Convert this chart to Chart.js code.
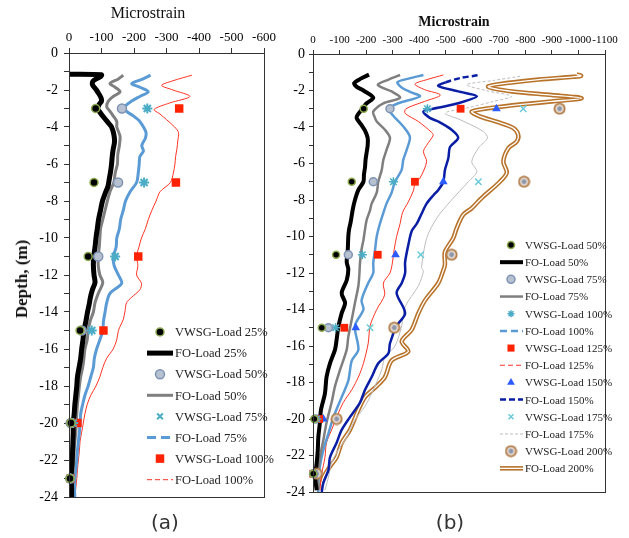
<!DOCTYPE html>
<html>
<head>
<meta charset="utf-8">
<script src="https://cdn.jsdelivr.net/npm/chart.js@4.4.1/dist/chart.umd.min.js"></script>
<style>
body { margin:0; background:#fff; width:629px; height:538px; position:relative; overflow:hidden; font-family:'Liberation Serif', serif; }
canvas { position:absolute; top:0; }
#chartA { left:0; }
#chartB { left:285px; }
.lbl { position:absolute; transform:translate(-50%,-50%); white-space:nowrap; color:#111; }
</style>
</head>
<body>
<canvas id="chartA" width="290" height="538"></canvas>
<canvas id="chartB" width="344" height="538"></canvas>
<div class="lbl" style="left:148px;top:13px;font-size:16px">Microstrain</div>
<div class="lbl" style="left:454px;top:22px;font-size:14px;font-weight:bold">Microstrain</div>
<div class="lbl" style="left:22px;top:279px;font-size:17px;font-weight:bold;transform:translate(-50%,-50%) rotate(-90deg)">Depth, (m)</div>
<div class="lbl" style="left:165px;top:522px;font:20px 'DejaVu Sans',sans-serif;color:#333">(a)</div>
<div class="lbl" style="left:450px;top:522px;font:20px 'DejaVu Sans',sans-serif;color:#333">(b)</div>
<script>
// depths of the vibrating wire strain gauges (m)
const gaugeDepth = [-3, -7, -11, -15, -20, -23];

// ---- panel (a): gauges (microstrain) ----
const vwA25 = [-82, -77, -59, -34, -6, -3];
const vwA50 = [-163, -151, -90, -39, -5, -4];
const vwA75 = [-241, -231, -142, -70, -13, -4];
const vwA100 = [-339, -329, -213, -106, -26, -5];

// ---- panel (a): fibre optic profiles [strain, depth] ----
const foA25 = [[0,-1.15],[-100,-1.18],[-95,-1.3],[-75,-1.5],[-72,-1.7],[-80,-1.9],[-88,-2.1],[-98,-2.4],[-100,-2.6],[-92,-2.8],[-88,-3.0],[-95,-3.2],[-108,-3.5],[-122,-3.8],[-131,-4.0],[-138,-4.4],[-140,-4.8],[-136,-5.2],[-133,-5.6],[-131,-6.0],[-128,-6.4],[-124,-6.8],[-120,-7.2],[-111,-7.6],[-103,-8.0],[-97,-8.5],[-91,-9.0],[-87,-9.5],[-83,-10.0],[-80,-10.5],[-76,-11.0],[-75,-11.5],[-77,-12.0],[-80,-12.4],[-72,-12.8],[-66,-13.2],[-62,-13.6],[-57,-14.0],[-52,-14.5],[-46,-15.0],[-43,-15.5],[-39,-16.0],[-36,-16.5],[-31,-17.0],[-26,-17.5],[-24,-18.0],[-21,-18.5],[-18,-19.0],[-16,-19.5],[-13,-20.0],[-13,-20.5],[-12,-21.0],[-11,-21.5],[-10,-22.0],[-8,-22.5],[-6,-23.0],[-8,-23.5],[-8,-24.0]];
const foA50 = [[-167,-1.2],[-152,-1.4],[-126,-1.65],[-142,-1.85],[-157,-2.1],[-136,-2.35],[-121,-2.6],[-116,-2.9],[-126,-3.15],[-136,-3.4],[-147,-3.7],[-147,-4.0],[-157,-4.5],[-155,-5.0],[-150,-5.5],[-149,-6.0],[-142,-6.5],[-138,-7.0],[-126,-7.5],[-118,-8.0],[-111,-8.5],[-104,-9.0],[-97,-9.5],[-95,-10.0],[-93,-10.5],[-90,-11.0],[-90,-11.5],[-95,-12.0],[-104,-12.4],[-90,-13.0],[-80,-13.5],[-75,-14.0],[-65,-14.5],[-59,-15.0],[-56,-15.5],[-49,-16.0],[-46,-16.5],[-42,-17.0],[-36,-17.5],[-32,-18.0],[-29,-18.5],[-26,-19.0],[-24,-19.5],[-22,-20.0],[-21,-20.5],[-18,-21.0],[-16,-21.5],[-15,-22.0],[-13,-22.5],[-11,-23.0],[-11,-23.5],[-11,-24.0]];
const foA75 = [[-251,-1.2],[-228,-1.4],[-193,-1.65],[-218,-1.85],[-244,-2.1],[-218,-2.35],[-193,-2.6],[-172,-2.9],[-177,-3.15],[-198,-3.4],[-218,-3.7],[-229,-4.0],[-237,-4.3],[-235,-4.6],[-224,-5.0],[-229,-5.3],[-218,-5.6],[-216,-6.0],[-213,-6.5],[-208,-7.0],[-188,-7.5],[-174,-8.0],[-167,-8.5],[-159,-9.0],[-155,-9.5],[-147,-10.0],[-145,-10.5],[-136,-11.0],[-139,-11.5],[-152,-12.0],[-162,-12.45],[-126,-13.0],[-116,-13.5],[-111,-14.0],[-106,-14.5],[-104,-15.0],[-95,-15.5],[-85,-16.0],[-78,-16.5],[-75,-17.0],[-67,-17.5],[-59,-18.0],[-49,-18.5],[-42,-19.0],[-36,-19.5],[-34,-20.0],[-32,-20.5],[-29,-21.0],[-26,-21.5],[-24,-22.0],[-21,-22.5],[-18,-23.0],[-17,-23.5],[-18,-24.0]];
const foA100 = [[-378,-1.2],[-320,-1.5],[-285,-1.75],[-320,-2.0],[-372,-2.35],[-310,-2.7],[-262,-3.05],[-280,-3.3],[-300,-3.6],[-325,-4.0],[-337,-4.3],[-335,-4.7],[-332,-5.2],[-328,-5.6],[-326,-6.0],[-321,-6.5],[-312,-7.0],[-280,-7.5],[-268,-8.0],[-255,-8.5],[-244,-9.0],[-235,-9.5],[-223,-10.0],[-215,-10.5],[-208,-11.0],[-212,-11.5],[-208,-12.0],[-223,-12.45],[-218,-12.8],[-193,-13.2],[-177,-13.5],[-172,-14.0],[-167,-14.4],[-152,-15.0],[-147,-15.5],[-136,-16.0],[-116,-16.5],[-104,-17.0],[-95,-17.5],[-83,-18.0],[-67,-18.5],[-56,-19.0],[-49,-19.5],[-44,-20.0],[-39,-20.5],[-34,-21.0],[-32,-21.5],[-29,-22.0],[-26,-22.5],[-24,-23.0],[-21,-23.5],[-18,-24.0]];

// ---- panel (b): gauges ----
const vwB50 = [-191, -146, -87, -33, -5, -1];
const vwB75 = [-290, -227, -133, -58, -8, -2];
const vwB100 = [-431, -303, -186, -85, -15, -3];
const vwB125 = [-556, -384, -244, -118, -23, -1];
const vwB150 = [-691, -491, -311, -161, -39, -3];
const vwB175 = [-792, -623, -406, -215, -30, -5];
const vwB200 = [-929, -795, -522, -306, -89, -14];

// ---- panel (b): fibre optic profiles [strain, depth] ----
const foB50 = [[-211,-1.13],[-180,-1.35],[-155,-1.6],[-165,-1.8],[-190,-2.0],[-227,-2.4],[-202,-2.7],[-186,-3.0],[-170,-3.3],[-164,-3.5],[-183,-3.9],[-196,-4.2],[-206,-4.6],[-206,-5.0],[-202,-5.4],[-198,-5.8],[-196,-6.2],[-192,-6.6],[-190,-7.0],[-171,-7.45],[-158,-8.0],[-150,-8.5],[-142,-9.2],[-136,-9.6],[-133,-10.0],[-131,-10.7],[-127,-11.4],[-133,-11.8],[-127,-12.4],[-108,-13.1],[-121,-13.65],[-108,-14.2],[-95,-15.0],[-89,-15.65],[-83,-16.2],[-64,-16.95],[-51,-17.7],[-45,-18.6],[-30,-19.5],[-26,-20.2],[-20,-21.0],[-18,-21.7],[-14,-22.4],[-8,-23.2],[-14,-23.9]];
const foB75 = [[-328,-1.15],[-285,-1.4],[-244,-1.68],[-270,-1.9],[-296,-2.05],[-328,-2.4],[-265,-2.7],[-227,-3.15],[-232,-3.45],[-240,-3.7],[-271,-4.15],[-290,-4.6],[-277,-5.25],[-265,-5.8],[-259,-6.35],[-246,-7.0],[-240,-7.6],[-221,-8.2],[-215,-8.55],[-202,-9.1],[-196,-9.6],[-190,-10.2],[-183,-10.7],[-177,-11.45],[-175,-12.0],[-171,-12.7],[-158,-13.65],[-146,-14.55],[-133,-15.5],[-127,-16.2],[-102,-17.3],[-83,-18.2],[-70,-19.1],[-51,-20.2],[-39,-21.15],[-26,-22.1],[-20,-23.0],[-18,-23.9]];
const foB100 = [[-416,-1.15],[-360,-1.35],[-318,-1.55],[-335,-1.85],[-370,-2.1],[-403,-2.32],[-321,-2.7],[-285,-3.0],[-303,-3.4],[-340,-3.97],[-365,-4.55],[-353,-5.25],[-340,-5.8],[-334,-6.35],[-309,-7.0],[-296,-7.6],[-277,-8.2],[-265,-8.7],[-252,-9.3],[-240,-10.0],[-234,-10.7],[-227,-11.45],[-227,-12.0],[-208,-12.55],[-183,-13.5],[-190,-14.0],[-158,-14.9],[-171,-16.2],[-146,-16.8],[-133,-17.9],[-108,-18.8],[-77,-19.9],[-58,-20.8],[-39,-21.7],[-26,-22.6],[-20,-23.5],[-20,-24.0]];
const foB125 = [[-491,-1.15],[-430,-1.4],[-384,-1.65],[-420,-1.95],[-480,-2.25],[-420,-2.6],[-350,-3.0],[-347,-3.25],[-397,-3.7],[-447,-4.3],[-453,-4.45],[-428,-5.0],[-416,-5.35],[-428,-5.9],[-403,-6.8],[-384,-7.1],[-378,-7.5],[-359,-8.1],[-337,-8.7],[-328,-9.3],[-315,-10.0],[-306,-10.7],[-299,-11.45],[-290,-12.0],[-265,-12.55],[-270,-13.2],[-240,-14.0],[-215,-14.9],[-208,-15.85],[-190,-16.95],[-171,-17.7],[-146,-18.4],[-114,-19.1],[-89,-19.9],[-70,-20.6],[-51,-21.3],[-45,-22.1],[-33,-23.0],[-26,-23.9]];
const foB150 = [[-620,-1.17],[-554,-1.32],[-500,-1.55],[-472,-1.75],[-547,-2.05],[-617,-2.32],[-547,-2.7],[-470,-2.95],[-416,-3.15],[-440,-3.5],[-472,-3.7],[-522,-4.15],[-547,-4.6],[-516,-5.1],[-510,-5.7],[-497,-6.35],[-491,-7.0],[-472,-7.45],[-453,-7.75],[-428,-8.2],[-409,-8.75],[-391,-9.3],[-372,-9.7],[-360,-10.4],[-347,-11.4],[-347,-12.0],[-334,-12.56],[-315,-13.1],[-347,-14.2],[-315,-14.9],[-290,-15.85],[-284,-16.4],[-246,-16.95],[-221,-17.7],[-196,-18.4],[-177,-19.1],[-139,-19.9],[-108,-20.6],[-89,-21.3],[-64,-22.1],[-58,-22.8],[-39,-23.5],[-33,-24.0]];
const foB175 = [[-780,-1.22],[-680,-1.45],[-579,-1.68],[-650,-2.0],[-748,-2.32],[-680,-2.6],[-579,-2.96],[-497,-3.24],[-554,-3.6],[-641,-4.24],[-657,-4.6],[-623,-5.16],[-598,-5.9],[-617,-6.45],[-585,-7.0],[-516,-8.1],[-466,-9.0],[-428,-10.1],[-409,-11.7],[-416,-11.9],[-397,-12.7],[-347,-13.85],[-334,-14.9],[-309,-16.0],[-271,-16.6],[-259,-17.3],[-221,-18.6],[-196,-19.3],[-158,-20.05],[-127,-21.0],[-95,-21.7],[-70,-22.4],[-58,-23.2],[-45,-23.9]];
const foB200 = [[-993,-1.12],[-1010,-1.2],[-980,-1.25],[-850,-1.4],[-700,-1.65],[-660,-1.8],[-750,-2.05],[-900,-2.25],[-1012,-2.42],[-900,-2.6],[-700,-2.9],[-598,-3.15],[-626,-3.4],[-700,-3.75],[-755,-4.06],[-773,-4.42],[-767,-4.8],[-736,-5.16],[-717,-5.9],[-730,-6.5],[-704,-7.0],[-635,-7.9],[-598,-8.45],[-566,-8.8],[-541,-9.55],[-528,-10.1],[-497,-10.85],[-497,-11.55],[-491,-11.85],[-472,-12.55],[-422,-13.5],[-397,-14.2],[-372,-15.1],[-334,-15.75],[-359,-16.3],[-296,-16.8],[-271,-17.7],[-240,-18.2],[-196,-18.8],[-171,-19.5],[-139,-20.6],[-108,-21.3],[-89,-22.1],[-64,-22.6],[-39,-23.2],[-26,-23.9]];

const legendA = ['VWSG-Load 25%','FO-Load 25%','VWSG-Load 50%','FO-Load 50%','VWSG-Load 75%','FO-Load 75%','VWSG-Load 100%','FO-Load 100%'];
const legendB = ['VWSG-Load 50%','FO-Load 50%','VWSG-Load 75%','FO-Load 75%','VWSG-Load 100%','FO-Load 100%','VWSG-Load 125%','FO-Load 125%','VWSG-Load 150%','FO-Load 150%','VWSG-Load 175%','FO-Load 175%','VWSG-Load 200%','FO-Load 200%'];

Chart.defaults.font.family = "'Liberation Serif', serif";
Chart.defaults.animation = false;

// brown "target" marker
function targetMark() {
    const c = document.createElement('canvas');
    c.width = 13; c.height = 13;
    const g = c.getContext('2d');
    g.beginPath(); g.arc(6.5, 6.5, 6, 0, 2 * Math.PI); g.fillStyle = '#B07A45'; g.fill();
    g.beginPath(); g.arc(6.5, 6.5, 4.2, 0, 2 * Math.PI); g.fillStyle = '#E6DCD2'; g.fill();
    g.beginPath(); g.arc(6.5, 6.5, 2.4, 0, 2 * Math.PI); g.fillStyle = '#8C95AA'; g.fill();
    return c;
}

function gauges(label, vals, style) {
    return Object.assign({
        label: label,
        data: vals.map((v, i) => ({ x: v, y: gaugeDepth[i] })),
        showLine: false, clip: false, kind: 'pt'
    }, style);
}

function fibre(label, arr, style) {
    return Object.assign({
        label: label,
        data: arr.map(p => ({ x: p[0], y: p[1] })),
        showLine: true, pointRadius: 0, pointHoverRadius: 0, tension: 0.3, fill: false, kind: 'ln'
    }, style);
}

const frame = {
    id: 'frame',
    afterDraw(chart) {
        const a = chart.chartArea, c = chart.ctx;
        c.save();
        c.strokeStyle = '#333';
        c.lineWidth = 1;
        c.strokeRect(Math.round(a.left) + 0.5, Math.round(a.top) + 0.5, Math.round(a.right - a.left), Math.round(a.bottom - a.top));
        c.restore();
    }
};

function sideLegend(names, y0, dy, ptX, lnX0, lnX1, txtX, fontSize) {
    return {
        id: 'sideLegend',
        afterDraw(chart) {
            const c = chart.ctx;
            const sets = chart.data.datasets;
            names.forEach((name, i) => {
                const ds = sets.find(d => d.label === name);
                if (!ds) return;
                const y = y0 + i * dy;
                c.save();
                if (ds.kind === 'ln') {
                    c.strokeStyle = ds.borderColor;
                    c.lineWidth = ds.borderWidth;
                    c.setLineDash(ds.legendDash || []);
                    c.beginPath(); c.moveTo(lnX0, y); c.lineTo(lnX1, y); c.stroke();
                    if (ds.innerColor) {
                        c.strokeStyle = ds.innerColor;
                        c.lineWidth = 1.3;
                        c.beginPath(); c.moveTo(lnX0, y); c.lineTo(lnX1, y); c.stroke();
                    }
                } else {
                    c.fillStyle = ds.pointBackgroundColor;
                    c.strokeStyle = ds.pointBorderColor;
                    c.lineWidth = ds.pointBorderWidth;
                    Chart.helpers.drawPoint(c, {
                        pointStyle: ds.legendStyle || ds.pointStyle,
                        radius: ds.legendRadius || ds.pointRadius,
                        borderWidth: ds.pointBorderWidth, rotation: 0
                    }, ptX, y);
                }
                c.setLineDash([]);
                c.fillStyle = '#222';
                c.font = fontSize + "px 'Liberation Serif'";
                c.textBaseline = 'middle';
                c.textAlign = 'left';
                c.fillText(name, txtX, y + 1);
                c.restore();
            });
        }
    };
}

function scales(xMin, xFont, xH, xTick, xPad, yW, yTick, yPad) {
    return {
        x: {
            type: 'linear', position: 'top', min: xMin, max: 0, reverse: true,
            ticks: { stepSize: 100, autoSkip: false, maxRotation: 0, color: '#000', padding: xPad,
                     font: { size: xFont }, callback: v => String(v) },
            grid: { drawOnChartArea: false, tickLength: xTick, color: '#333' },
            border: { color: '#333' },
            afterFit: s => { s.height = xH; }
        },
        y: {
            type: 'linear', min: -24, max: 0,
            ticks: { stepSize: 1, autoSkip: false, color: '#000', padding: yPad,
                     font: { size: 14 }, callback: v => (v % 2 === 0 ? String(v) : '') },
            grid: { drawOnChartArea: false, tickLength: yTick, color: '#333' },
            border: { color: '#333' },
            afterFit: s => { s.width = yW; }
        }
    };
}

// ---- chart (a) ----
new Chart(document.getElementById('chartA'), {
    type: 'scatter',
    data: {
        datasets: [
            gauges('VWSG-Load 25%', vwA25, { pointStyle: 'circle', pointRadius: 4, pointBackgroundColor: '#000', pointBorderColor: '#8CAA4E', pointBorderWidth: 1.5 }),
            gauges('VWSG-Load 50%', vwA50, { pointStyle: 'circle', pointRadius: 4.5, pointBackgroundColor: '#B7C1D0', pointBorderColor: '#7E93B3', pointBorderWidth: 1.5 }),
            gauges('VWSG-Load 75%', vwA75, { pointStyle: 'star', pointRadius: 5, pointBackgroundColor: '#4BACC6', pointBorderColor: '#4BACC6', pointBorderWidth: 2, legendStyle: 'crossRot', legendRadius: 4 }),
            gauges('VWSG-Load 100%', vwA100, { pointStyle: 'rect', pointRadius: 6, pointBackgroundColor: '#FF2200', pointBorderColor: '#FF2200', pointBorderWidth: 0 }),
            fibre('FO-Load 25%', foA25, { borderColor: '#000', borderWidth: 5 }),
            fibre('FO-Load 50%', foA50, { borderColor: '#7F7F7F', borderWidth: 3 }),
            fibre('FO-Load 75%', foA75, { borderColor: '#5B9BD5', borderWidth: 3, legendDash: [9, 5] }),
            fibre('FO-Load 100%', foA100, { borderColor: '#FF3322', borderWidth: 1, legendDash: [5, 3] })
        ]
    },
    options: {
        responsive: false,
        layout: { padding: { left: 0, top: 0, right: 26, bottom: 41 } },
        plugins: { legend: { display: false }, tooltip: { enabled: false } },
        scales: scales(-600, 13, 53, 5, 3, 69, 5, 6)
    },
    plugins: [frame, sideLegend(legendA, 332, 21.1, 160, 147, 173, 175, 12.5)]
});

// ---- chart (b) ----
const offB = 285;
new Chart(document.getElementById('chartB'), {
    type: 'scatter',
    data: {
        datasets: [
            gauges('VWSG-Load 50%', vwB50, { pointStyle: 'circle', pointRadius: 3.5, pointBackgroundColor: '#000', pointBorderColor: '#8CAA4E', pointBorderWidth: 1.5 }),
            gauges('VWSG-Load 75%', vwB75, { pointStyle: 'circle', pointRadius: 4, pointBackgroundColor: '#B7C1D0', pointBorderColor: '#7E93B3', pointBorderWidth: 1.5 }),
            gauges('VWSG-Load 100%', vwB100, { pointStyle: 'star', pointRadius: 4.5, pointBackgroundColor: '#4BACC6', pointBorderColor: '#4BACC6', pointBorderWidth: 1.5, legendRadius: 3.5 }),
            gauges('VWSG-Load 125%', vwB125, { pointStyle: 'rect', pointRadius: 5.5, pointBackgroundColor: '#FF2200', pointBorderColor: '#FF2200', pointBorderWidth: 0, legendRadius: 5 }),
            gauges('VWSG-Load 150%', vwB150, { pointStyle: 'triangle', pointRadius: 5, pointBackgroundColor: '#2B5BFF', pointBorderColor: '#2B5BFF', pointBorderWidth: 0, legendRadius: 4.5 }),
            gauges('VWSG-Load 175%', vwB175, { pointStyle: 'crossRot', pointRadius: 4.5, pointBackgroundColor: '#6ACBD8', pointBorderColor: '#6ACBD8', pointBorderWidth: 1.5, legendRadius: 3.5 }),
            gauges('VWSG-Load 200%', vwB200, { pointStyle: targetMark(), pointRadius: 6, pointBackgroundColor: '#B07A45', pointBorderColor: '#B07A45', pointBorderWidth: 0 }),
            fibre('FO-Load 50%', foB50, { borderColor: '#000', borderWidth: 4 }),
            fibre('FO-Load 75%', foB75, { borderColor: '#7F7F7F', borderWidth: 2.5 }),
            fibre('FO-Load 100%', foB100, { borderColor: '#5B9BD5', borderWidth: 2.5, legendDash: [7, 4] }),
            fibre('FO-Load 125%', foB125, { borderColor: '#FF3322', borderWidth: 1, legendDash: [5, 3] }),
            fibre('FO-Load 150%', foB150, { borderColor: '#0A1EA5', borderWidth: 2.5, legendDash: [6, 3],
                segment: { borderDash: ctx => (ctx.p0DataIndex < 2 ? [6, 3] : undefined) } }),
            fibre('FO-Load 175%', foB175, { borderColor: '#BDBDBD', borderWidth: 1, legendDash: [3, 2],
                segment: { borderDash: ctx => (ctx.p0DataIndex < 7 ? [3, 2] : undefined) } }),
            fibre('', foB200, { borderColor: '#FFFFFF', borderWidth: 1.3 }),
            fibre('FO-Load 200%', foB200, { borderColor: '#B8732A', borderWidth: 4.5, innerColor: '#FFFFFF' })
        ]
    },
    options: {
        responsive: false,
        layout: { padding: { left: 0, top: 0, right: 24, bottom: 46 } },
        plugins: { legend: { display: false }, tooltip: { enabled: false } },
        scales: scales(-1100, 11, 54, 4, 3, 28, 4, 4)
    },
    plugins: [frame, sideLegend(legendB, 245, 17.18, 511 - offB, 500 - offB, 523 - offB, 525 - offB, 11)]
});
</script>
</body>
</html>
